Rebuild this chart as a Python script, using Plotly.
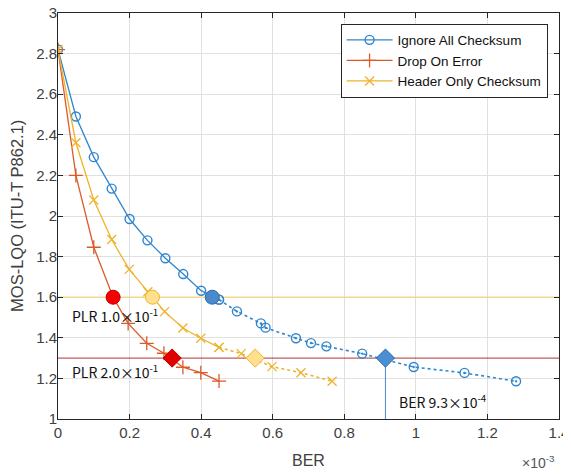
import plotly.graph_objects as go

# ---------------- data (BER in units of 1e-3) ----------------
ber_ignore = [0, 0.05, 0.10, 0.15, 0.20, 0.25, 0.30, 0.35, 0.40, 0.45,
              0.50, 0.567, 0.58, 0.665, 0.707, 0.75, 0.85, 0.994, 1.136, 1.28]
mos_ignore = [2.82, 2.49, 2.29, 2.135, 1.985, 1.88, 1.792, 1.714, 1.632, 1.588,
              1.530, 1.471, 1.450, 1.398, 1.374, 1.358, 1.322, 1.256, 1.227, 1.186]
ignore_solid_n = 10  # measured (solid) part

ber_drop = [0, 0.05, 0.10, 0.154, 0.196, 0.248, 0.296, 0.349, 0.399, 0.45]
mos_drop = [2.82, 2.20, 1.846, 1.60, 1.471, 1.373, 1.324, 1.255, 1.228, 1.187]

ber_header = [0, 0.05, 0.10, 0.15, 0.199, 0.251, 0.298, 0.349, 0.399, 0.45,
              0.512, 0.598, 0.679, 0.766]
mos_header = [2.82, 2.361, 2.079, 1.884, 1.737, 1.627, 1.529, 1.448, 1.398, 1.353,
              1.322, 1.258, 1.228, 1.186]
header_solid_n = 10

# thresholds
plr_levels = ["1.0×10<sup>-1</sup>", "2.0×10<sup>-1</sup>"]
mos_thresholds = [1.60, 1.30]
# highlighted crossings: [drop, header, ignore]
ber_at_plr1 = [0.154, 0.264, 0.431]
ber_at_plr2 = [0.319, 0.551, 0.915]
ber_marker_label = "9.3×10<sup>-4</sup>"

x_range = [0, 1.4]
y_range = [1, 3]

BLUE = "#2f86cf"
RED = "#dd5a28"
YEL = "#eeb32a"

fig = go.Figure()

# threshold lines
fig.add_trace(go.Scatter(x=x_range, y=[mos_thresholds[0]] * 2, mode="lines",
                         line=dict(color="#f2d98f", width=1.5), showlegend=False, hoverinfo="skip"))
fig.add_trace(go.Scatter(x=x_range, y=[mos_thresholds[1]] * 2, mode="lines",
                         line=dict(color="#990000", width=0.8), showlegend=False, hoverinfo="skip"))
fig.add_trace(go.Scatter(x=[ber_at_plr2[2]] * 2, y=[y_range[0], mos_thresholds[1]], mode="lines",
                         line=dict(color="#4a8ad0", width=1), showlegend=False, hoverinfo="skip"))

# Ignore all checksum
fig.add_trace(go.Scatter(x=ber_ignore[:ignore_solid_n], y=mos_ignore[:ignore_solid_n],
                         mode="lines+markers", name="Ignore All Checksum",
                         line=dict(color=BLUE, width=1.3),
                         marker=dict(symbol="circle-open", size=9, color=BLUE, line=dict(width=1.4))))
fig.add_trace(go.Scatter(x=ber_ignore[ignore_solid_n - 1:], y=mos_ignore[ignore_solid_n - 1:],
                         mode="lines+markers", showlegend=False,
                         line=dict(color=BLUE, width=1.6, dash="dot"),
                         marker=dict(symbol="circle-open-dot", size=9, color=BLUE, line=dict(width=1.4))))

# Drop on error
fig.add_trace(go.Scatter(x=ber_drop, y=mos_drop, mode="lines+markers", name="Drop On Error",
                         line=dict(color=RED, width=1.3),
                         marker=dict(symbol="cross-thin-open", size=10, color=RED, line=dict(width=1.3, color=RED))))

# Header only checksum
fig.add_trace(go.Scatter(x=ber_header[:header_solid_n], y=mos_header[:header_solid_n],
                         mode="lines+markers", name="Header Only Checksum",
                         line=dict(color=YEL, width=1.3),
                         marker=dict(symbol="x-thin-open", size=9, color=YEL, line=dict(width=1.3, color=YEL))))
fig.add_trace(go.Scatter(x=ber_header[header_solid_n - 1:], y=mos_header[header_solid_n - 1:],
                         mode="lines+markers", showlegend=False,
                         line=dict(color=YEL, width=1.6, dash="dot"),
                         marker=dict(symbol="x-thin-open", size=9, color=YEL, line=dict(width=1.3, color=YEL))))

# highlighted points
fill1 = ["#f50000", "#ffe08f", "#4a8acb"]
edge1 = ["#c00000", "#f2b52a", "#2d6aa8"]
fig.add_trace(go.Scatter(x=ber_at_plr1, y=[mos_thresholds[0]] * 3, mode="markers", showlegend=False,
                         marker=dict(symbol="circle", size=14, color=fill1, line=dict(width=1, color=edge1))))
fill2 = ["#e00000", "#ffe08f", "#4a8fd3"]
edge2 = ["#c00000", "#f2b52a", "#2d6aa8"]
fig.add_trace(go.Scatter(x=ber_at_plr2, y=[mos_thresholds[1]] * 3, mode="markers", showlegend=False,
                         marker=dict(symbol="diamond", size=14, color=fill2, line=dict(width=1, color=edge2))))

ann_font = dict(family="Noto Sans CJK KR, Noto Sans, sans-serif", size=14, color="#111111")
title_font = dict(family="Liberation Sans, Arial, sans-serif", size=16, color="#404040")
annotations = [
    dict(x=0.034, y=1.512, xref="x", yref="y", text="PLR " + plr_levels[0], showarrow=False,
         xanchor="left", yanchor="middle", font=ann_font),
    dict(x=0.034, y=1.233, xref="x", yref="y", text="PLR " + plr_levels[1], showarrow=False,
         xanchor="left", yanchor="middle", font=ann_font),
    dict(x=0.946, y=1.085, xref="x", yref="y", text="BER " + ber_marker_label, showarrow=False,
         xanchor="left", yanchor="middle", font=ann_font),
    dict(x=0.997, y=-0.105, xref="paper", yref="paper", text="×10<sup>-3</sup>", showarrow=False,
         xanchor="right", yanchor="middle", font=dict(family="Liberation Sans, Arial", size=14, color="#555555")),
    dict(x=0.5, y=-0.101, xref="paper", yref="paper", text="BER", showarrow=False,
         xanchor="center", yanchor="middle", font=title_font),
    dict(x=-0.082, y=0.5, xref="paper", yref="paper", text="MOS-LQO (ITU-T P862.1)", showarrow=False,
         xanchor="center", yanchor="middle", textangle=-90, font=dict(title_font, size=16.5)),
]

axis_font = dict(family="Liberation Sans, Arial, sans-serif", size=15, color="#404040")
common_axis = dict(showline=True, linecolor="#262626", linewidth=1, mirror="ticks",
                   ticks="inside", ticklen=5, tickcolor="#262626",
                   showgrid=True, gridcolor="#e0e0e0", gridwidth=1, zeroline=False,
                   tickfont=axis_font, automargin=False, ticklabeloverflow="allow")

# page body adds an 8px offset, so the figure is sized/margined to compensate
fig.update_layout(
    width=563, height=466,
    margin=dict(l=50, r=12, t=5, b=55),
    paper_bgcolor="white", plot_bgcolor="white",
    font=dict(family="Liberation Sans, Arial, sans-serif", color="#404040"),
    xaxis=dict(range=x_range, dtick=0.2, tick0=0, **common_axis),
    yaxis=dict(range=y_range, dtick=0.2, tick0=1, ticklabelstandoff=-3, **common_axis),
    legend=dict(x=0.564, y=0.974, xanchor="left", yanchor="top",
                bgcolor="white", bordercolor="#262626", borderwidth=1,
                font=dict(family="Liberation Sans, Arial, sans-serif", size=13.5, color="#111111"),
                tracegroupgap=0, itemwidth=46),
    annotations=annotations,
    showlegend=True,
)

fig.write_html("out.html")
